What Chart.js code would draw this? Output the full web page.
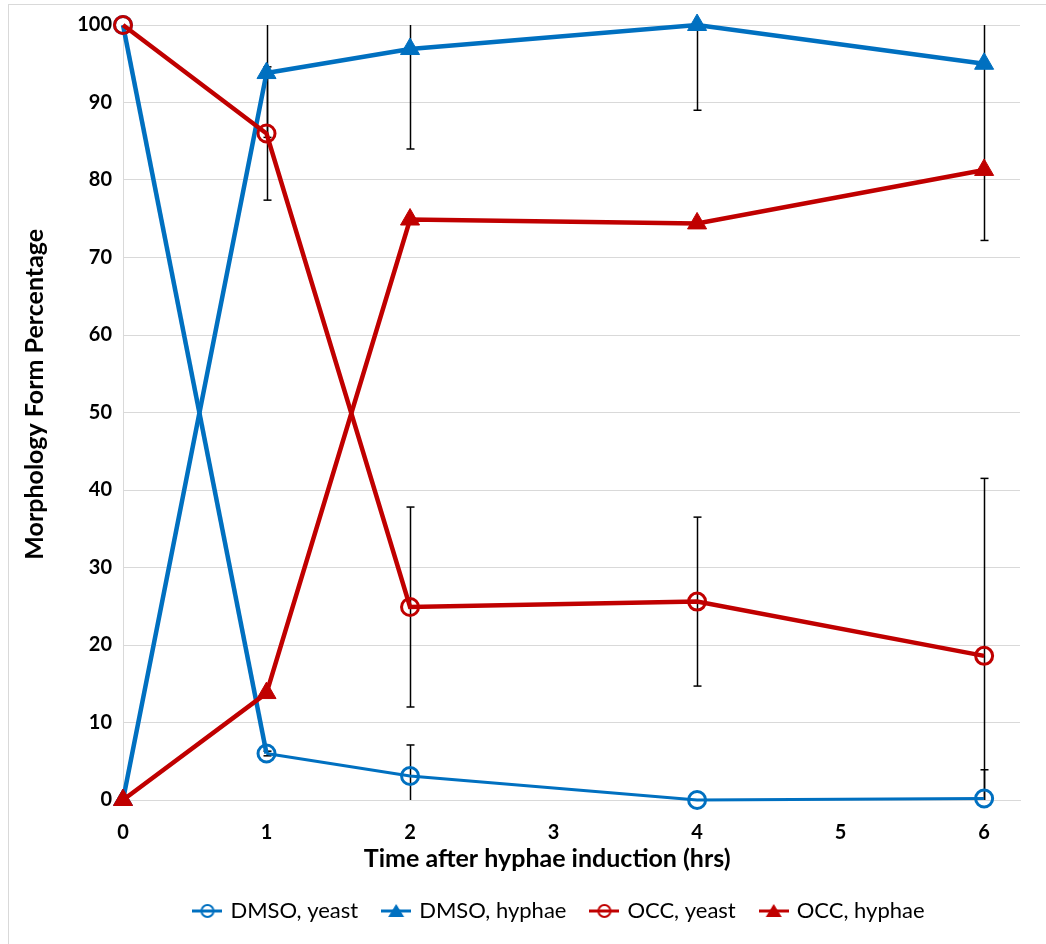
<!DOCTYPE html>
<html>
<head>
<meta charset="utf-8">
<script src="https://cdn.jsdelivr.net/npm/chart.js@4/dist/chart.umd.min.js"></script>
<style>
  body { margin: 0; background: #fff; overflow: hidden; }
  #wrap { position: relative; width: 1046px; height: 944px; }
  #frame { position: absolute; left: 8px; top: 4px; width: 1100px; height: 1000px; border: 1px solid #d9d9d9; }
  #myChart { position: absolute; left: 0; top: 0; }
</style>
</head>
<body>
<div id="wrap">
  <div id="frame"></div>
  <canvas id="myChart" width="1046" height="944"></canvas>
</div>
<script>
// hours after induction
var times = [0, 1, 2, 4, 6];
var tickHours = [0, 1, 2, 3, 4, 5, 6];

// percentages per series
var dmsoYeast = [100, 6.0, 3.1, 0, 0.2];
var dmsoHyphae = [0, 93.8, 96.9, 100, 95.0];
var occYeast = [100, 86.0, 24.9, 25.6, 18.6];
var occHyphae = [0, 13.8, 74.9, 74.4, 81.3];

// error bars (+/-)
var dmsoYeastErr = [0, 0.3, 4.0, 0, 3.7];
var dmsoHyphaeErr = [0, 8.3, 12.9, 11.0, 22.8];
var occYeastErr = [0, 8.6, 12.9, 10.9, 22.9];
var occHyphaeErr = [0, 0, 0, 0, 0];

var seriesNames = ["DMSO, yeast", "DMSO, hyphae", "OCC, yeast", "OCC, hyphae"];

var BLUE = "#0070C0";
var RED = "#C00000";
var FONT = "Lato, 'Liberation Sans', sans-serif";

function toPoints(vals) {
  return times.map(function (t, i) { return { x: t, y: vals[i] }; });
}

// little line+marker picture for the legend
function legendIcon(color, shape) {
  var c = document.createElement("canvas");
  c.width = 30; c.height = 20;
  var ctx = c.getContext("2d");
  ctx.strokeStyle = color;
  ctx.lineWidth = 3;
  ctx.beginPath(); ctx.moveTo(0, 10); ctx.lineTo(30, 10); ctx.stroke();
  if (shape === "circle") {
    ctx.lineWidth = 2;
    ctx.beginPath(); ctx.arc(15, 10, 6, 0, Math.PI * 2); ctx.stroke();
  } else {
    ctx.fillStyle = color;
    ctx.beginPath(); ctx.moveTo(15, 3); ctx.lineTo(23, 16); ctx.lineTo(7, 16); ctx.closePath(); ctx.fill();
  }
  return c;
}

function circleSet(label, vals, errs, color, order, thin) {
  return {
    label: label, data: toPoints(vals), errors: errs,
    borderColor: color, backgroundColor: "rgba(0,0,0,0)",
    borderWidth: 4.5, order: order, clip: false,
    pointStyle: "circle", pointRadius: 8.5, pointBorderWidth: 3,
    pointBackgroundColor: "rgba(0,0,0,0)", pointBorderColor: color,
    segment: thin ? { borderWidth: function (ctx) { return ctx.p0DataIndex >= 1 ? 3 : 4.5; } } : undefined,
    legendIcon: legendIcon(color, "circle")
  };
}

function triangleSet(label, vals, errs, color, order) {
  return {
    label: label, data: toPoints(vals), errors: errs,
    borderColor: color, backgroundColor: color,
    borderWidth: 4.5, order: order, clip: false,
    pointStyle: "triangle", pointRadius: 11, pointBorderWidth: 1,
    pointBackgroundColor: color, pointBorderColor: color,
    legendIcon: legendIcon(color, "triangle")
  };
}

// draws the black error bars under the markers, clipped to 0..100
var errorBars = {
  id: "errorBars",
  beforeDatasetsDraw: function (chart) {
    var ctx = chart.ctx;
    var xs = chart.scales.x, ys = chart.scales.y;
    ctx.save();
    ctx.strokeStyle = "#000";
    ctx.lineWidth = 1.5;
    chart.data.datasets.forEach(function (ds) {
      ds.data.forEach(function (p, i) {
        var e = ds.errors[i];
        if (!e) return;
        var hi = p.y + e, lo = p.y - e;
        var px = Math.round(xs.getPixelForValue(p.x)) + 0.5;
        var top = ys.getPixelForValue(Math.min(hi, ys.max));
        var bot = ys.getPixelForValue(Math.max(lo, ys.min));
        ctx.beginPath(); ctx.moveTo(px, top); ctx.lineTo(px, bot); ctx.stroke();
        if (hi <= ys.max) { ctx.beginPath(); ctx.moveTo(px - 4, top); ctx.lineTo(px + 4, top); ctx.stroke(); }
        if (lo >= ys.min) { ctx.beginPath(); ctx.moveTo(px - 4, bot); ctx.lineTo(px + 4, bot); ctx.stroke(); }
      });
    });
    ctx.restore();
  }
};

// nudge the legend a bit right, like the original
var legendShift = {
  id: "legendShift",
  afterLayout: function (chart) {
    chart.legend.left += 40;
    chart.legend.right += 40;
  }
};

var canvas = document.getElementById("myChart");
var myChart = new Chart(canvas, {
  type: "line",
  data: {
    datasets: [
      circleSet(seriesNames[0], dmsoYeast, dmsoYeastErr, BLUE, 4, true),
      triangleSet(seriesNames[1], dmsoHyphae, dmsoHyphaeErr, BLUE, 3),
      circleSet(seriesNames[2], occYeast, occYeastErr, RED, 2, false),
      triangleSet(seriesNames[3], occHyphae, occHyphaeErr, RED, 1)
    ]
  },
  options: {
    responsive: false,
    animation: false,
    layout: { padding: { left: 20, right: 26, top: 25, bottom: 12 } },
    plugins: {
      tooltip: { enabled: false },
      legend: {
        position: "bottom",
        labels: {
          usePointStyle: true,
          pointStyleWidth: 24,
          boxHeight: 19,
          padding: 26,
          color: "#000",
          font: { family: FONT, size: 22 },
          generateLabels: function (chart) {
            return chart.data.datasets.map(function (ds, i) {
              return { text: ds.label, pointStyle: ds.legendIcon, datasetIndex: i, fontColor: "#000", lineWidth: 0, strokeStyle: "rgba(0,0,0,0)", fillStyle: "rgba(0,0,0,0)" };
            });
          }
        }
      }
    },
    scales: {
      x: {
        type: "linear",
        min: 0, max: 6.25,
        afterBuildTicks: function (scale) {
          scale.ticks = tickHours.map(function (v) { return { value: v }; });
        },
        afterFit: function (scale) { scale.height = 74; },
        grid: { display: false },
        border: { display: true, color: "#d9d9d9", width: 1 },
        ticks: { color: "#000", padding: 13, font: { family: FONT, size: 20, weight: "bold" } },
        title: {
          display: true, text: "Time after hyphae induction (hrs)        ", color: "#000",
          font: { family: FONT, size: 25, weight: "bold" }, padding: { top: 4, bottom: 0 }
        }
      },
      y: {
        min: 0, max: 100,
        afterFit: function (scale) { scale.width = 103; },
        grid: { color: "#d9d9d9", lineWidth: 1, drawTicks: false },
        border: { display: true, color: "#d9d9d9", width: 1 },
        ticks: { stepSize: 10, color: "#000", padding: 11, font: { family: FONT, size: 20, weight: "bold" } },
        title: {
          display: true, text: "      Morphology Form Percentage", color: "#000",
          font: { family: FONT, size: 25, weight: "bold" }, padding: { top: 0, bottom: 0 }
        }
      }
    }
  },
  plugins: [errorBars, legendShift]
});
</script>
</body>
</html>
